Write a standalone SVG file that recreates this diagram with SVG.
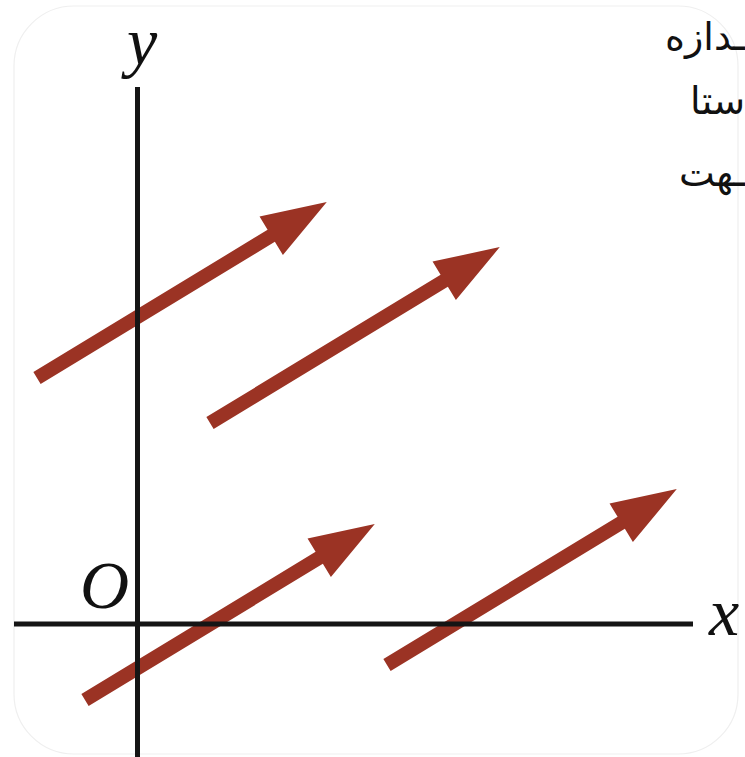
<svg xmlns="http://www.w3.org/2000/svg" width="745" height="757" viewBox="0 0 745 757">
  <style>
    .frame { fill: #ffffff; stroke: #efefef; stroke-width: 1.2; }
    .vec { fill: #9b3324; }
    .axis { stroke: #151515; stroke-width: 5; fill: none; }
    .lbl { font-family: "Liberation Serif", "Times New Roman", serif; font-style: italic; font-size: 68px; fill: #111111; }
    .fa { font-family: "DejaVu Sans", "Noto Sans", sans-serif; font-size: 38px; fill: #111111; }
  </style>
  <defs>
    <path id="arrow" d="M0,-7 L274,-7 L274,-22.5 L339,0 L274,22.5 L274,7 L0,7 Z"/>
  </defs>
  <rect x="0" y="0" width="745" height="757" fill="#ffffff"/>
  <rect class="frame" x="14" y="6" width="724" height="748" rx="60" ry="60"/>

  <g id="vectors">
    <use href="#arrow" class="vec" transform="translate(37,378) rotate(-31.26)"/>
    <use href="#arrow" class="vec" transform="translate(210,423) rotate(-31.26)"/>
    <use href="#arrow" class="vec" transform="translate(85,700) rotate(-31.26)"/>
    <use href="#arrow" class="vec" transform="translate(387,665) rotate(-31.26)"/>
  </g>

  <g id="axes">
    <line class="axis" x1="137.5" y1="87" x2="137.5" y2="757"/>
    <line class="axis" x1="14" y1="624" x2="693" y2="624"/>
  </g>

  <g id="labels">
    <text class="lbl" x="127" y="65">y</text>
    <text class="lbl" x="80" y="608">O</text>
    <text class="lbl" x="709" y="635">x</text>
  </g>

  <g id="persian-text">
    <text class="fa" x="745" y="50" text-anchor="end">ـدازه</text>
    <text class="fa" x="745" y="114" text-anchor="end">ستا</text>
    <text class="fa" x="745" y="186" text-anchor="end">ـهت</text>
  </g>
</svg>
